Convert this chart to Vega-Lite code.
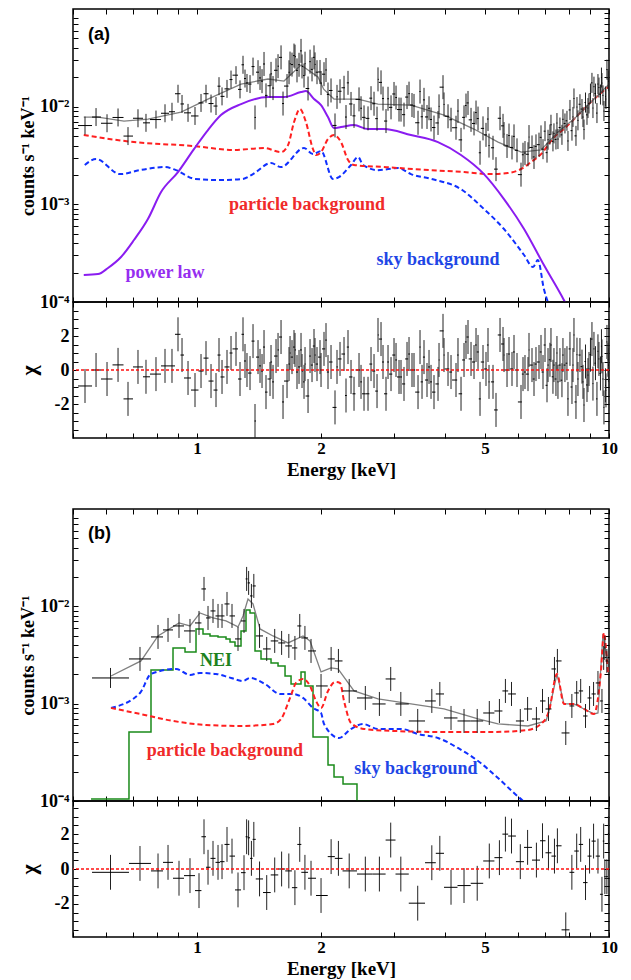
{
"$schema":"https://vega.github.io/schema/vega-lite/v6.json",
"background":"white",
"padding":{"left":16,"top":7,"right":5,"bottom":0},
"spacing":27,
"config":{
 "view":{"stroke":"black","strokeWidth":1.5},
 "axis":{"domain":false,"grid":false,"tickSize":-5,"tickColor":"black","tickWidth":1,"labelPadding":9,"labelFont":"Liberation Serif","labelFontWeight":"bold","labelFontSize":18,"labelColor":"black","titleFont":"Liberation Serif","titleFontWeight":"bold","titleFontSize":18,"titleColor":"black","labelOverlap":false,"labelFlush":false}
},
"datasets":{
"specA":[
{"e":0.5347,"el":0.5142,"eh":0.5561,"c":0.006407,"cl":0.005184,"ch":0.007919,"r":-0.94,"rl":-1.94,"rh":0.06},
{"e":0.5687,"el":0.5561,"eh":0.5847,"c":0.007827,"cl":0.006333,"ch":0.009674,"r":0,"rl":-1,"rh":1},
{"e":0.6047,"el":0.5847,"eh":0.6236,"c":0.006764,"cl":0.005472,"ch":0.00836,"r":-0.53,"rl":-1.53,"rh":0.47},
{"e":0.6431,"el":0.6236,"eh":0.6631,"c":0.007753,"cl":0.006273,"ch":0.009583,"r":0.3,"rl":-0.7,"rh":1.3},
{"e":0.68,"el":0.6631,"eh":0.6992,"c":0.005,"cl":0.004045,"ch":0.00618,"r":-1.7,"rl":-2.7,"rh":-0.7},
{"e":0.719,"el":0.6992,"eh":0.7394,"c":0.007608,"cl":0.006155,"ch":0.009403,"r":0.18,"rl":-0.82,"rh":1.18},
{"e":0.7519,"el":0.7394,"eh":0.7689,"c":0.006828,"cl":0.005524,"ch":0.00844,"r":-0.4,"rl":-1.4,"rh":0.6},
{"e":0.7951,"el":0.7689,"eh":0.8177,"c":0.00738,"cl":0.005971,"ch":0.009122,"r":-0.24,"rl":-1.24,"rh":0.76},
{"e":0.8362,"el":0.8177,"eh":0.8551,"c":0.00856,"cl":0.006926,"ch":0.01058,"r":0.24,"rl":-0.76,"rh":1.24},
{"e":0.8695,"el":0.8551,"eh":0.8842,"c":0.008869,"cl":0.007175,"ch":0.01096,"r":0.24,"rl":-0.76,"rh":1.24},
{"e":0.8992,"el":0.8842,"eh":0.9118,"c":0.01356,"cl":0.01097,"ch":0.01676,"r":2.1,"rl":1.1,"rh":3.1},
{"e":0.9196,"el":0.9118,"eh":0.9299,"c":0.01066,"cl":0.008625,"ch":0.01318,"r":0.88,"rl":-0.12,"rh":1.88},
{"e":0.951,"el":0.9299,"eh":0.967,"c":0.008642,"cl":0.006992,"ch":0.01068,"r":-0.47,"rl":-1.47,"rh":0.53},
{"e":0.9888,"el":0.967,"eh":1.0083,"c":0.008032,"cl":0.006498,"ch":0.009927,"r":-1.18,"rl":-2.18,"rh":-0.18},
{"e":1.0226,"el":1.0083,"eh":1.0369,"c":0.01092,"cl":0.008831,"ch":0.01349,"r":-0.06,"rl":-1.06,"rh":0.94},
{"e":1.0515,"el":1.0369,"eh":1.0664,"c":0.01356,"cl":0.01097,"ch":0.01676,"r":0.7,"rl":-0.3,"rh":1.7},
{"e":1.0814,"el":1.0664,"eh":1.0966,"c":0.01076,"cl":0.008707,"ch":0.0133,"r":-0.65,"rl":-1.65,"rh":0.35},
{"e":1.112,"el":1.0966,"eh":1.1213,"c":0.01015,"cl":0.00821,"ch":0.01254,"r":-1.18,"rl":-2.18,"rh":-0.18},
{"e":1.1308,"el":1.1213,"eh":1.1403,"c":0.01621,"cl":0.01312,"ch":0.02004,"r":0.88,"rl":-0.12,"rh":1.88},
{"e":1.15,"el":1.1403,"eh":1.1661,"c":0.01275,"cl":0.01031,"ch":0.01576,"r":-0.41,"rl":-1.41,"rh":0.59},
{"e":1.1825,"el":1.1661,"eh":1.1992,"c":0.01521,"cl":0.01231,"ch":0.0188,"r":0.18,"rl":-0.82,"rh":1.18},
{"e":1.2093,"el":1.1992,"eh":1.2194,"c":0.01894,"cl":0.01533,"ch":0.02342,"r":1,"rl":0,"rh":2},
{"e":1.2435,"el":1.2194,"eh":1.2575,"c":0.02101,"cl":0.017,"ch":0.02597,"r":1.24,"rl":0.24,"rh":2.24},
{"e":1.2716,"el":1.2575,"eh":1.2823,"c":0.01503,"cl":0.01216,"ch":0.01858,"r":-0.53,"rl":-1.53,"rh":0.47},
{"e":1.2931,"el":1.2823,"eh":1.3003,"c":0.02684,"cl":0.02172,"ch":0.03318,"r":2.1,"rl":1.1,"rh":3.1},
{"e":1.3076,"el":1.3003,"eh":1.3149,"c":0.0194,"cl":0.01569,"ch":0.02397,"r":0.53,"rl":-0.47,"rh":1.53},
{"e":1.3222,"el":1.3149,"eh":1.3296,"c":0.01748,"cl":0.01415,"ch":0.02161,"r":0,"rl":-1,"rh":1},
{"e":1.3448,"el":1.3296,"eh":1.3561,"c":0.01704,"cl":0.01378,"ch":0.02106,"r":-0.18,"rl":-1.18,"rh":0.82},
{"e":1.3675,"el":1.3561,"eh":1.379,"c":0.02573,"cl":0.02082,"ch":0.0318,"r":1.7,"rl":0.7,"rh":2.7},
{"e":1.3828,"el":1.379,"eh":1.3906,"c":0.007753,"cl":0.005843,"ch":0.01029,"r":-3,"rl":-4,"rh":-2},
{"e":1.4063,"el":1.3906,"eh":1.4141,"c":0.02255,"cl":0.01699,"ch":0.02992,"r":0.76,"rl":-0.24,"rh":1.76},
{"e":1.4221,"el":1.4141,"eh":1.43,"c":0.01968,"cl":0.01483,"ch":0.02611,"r":0.24,"rl":-0.76,"rh":1.24},
{"e":1.4381,"el":1.43,"eh":1.4461,"c":0.01824,"cl":0.01375,"ch":0.02421,"r":-0.06,"rl":-1.06,"rh":0.94},
{"e":1.4542,"el":1.4461,"eh":1.4623,"c":0.02735,"cl":0.02061,"ch":0.0363,"r":1.35,"rl":0.35,"rh":2.35},
{"e":1.4705,"el":1.4623,"eh":1.483,"c":0.01305,"cl":0.009836,"ch":0.01732,"r":-1.3,"rl":-2.3,"rh":-0.3},
{"e":1.5039,"el":1.483,"eh":1.508,"c":0.01637,"cl":0.01234,"ch":0.02172,"r":-0.53,"rl":-1.53,"rh":0.47},
{"e":1.5123,"el":1.508,"eh":1.521,"c":0.02166,"cl":0.01632,"ch":0.02874,"r":0.47,"rl":-0.53,"rh":1.47},
{"e":1.5293,"el":1.521,"eh":1.5379,"c":0.0155,"cl":0.01168,"ch":0.02057,"r":-0.7,"rl":-1.7,"rh":0.3},
{"e":1.5551,"el":1.5379,"eh":1.5683,"c":0.02358,"cl":0.01777,"ch":0.03129,"r":0.82,"rl":-0.18,"rh":1.82},
{"e":1.5727,"el":1.5683,"eh":1.5813,"c":0.02597,"cl":0.01957,"ch":0.03446,"r":1.18,"rl":0.18,"rh":2.18},
{"e":1.5993,"el":1.5813,"eh":1.6082,"c":0.03197,"cl":0.02409,"ch":0.04242,"r":1.94,"rl":0.94,"rh":2.94},
{"e":1.6172,"el":1.6082,"eh":1.6263,"c":0.01076,"cl":0.00811,"ch":0.01428,"r":-1.88,"rl":-2.88,"rh":-0.88},
{"e":1.6538,"el":1.6263,"eh":1.6677,"c":0.01625,"cl":0.01225,"ch":0.02157,"r":-0.65,"rl":-1.65,"rh":0.35},
{"e":1.6724,"el":1.6677,"eh":1.68,"c":0.02249,"cl":0.01695,"ch":0.02985,"r":0.35,"rl":-0.65,"rh":1.35},
{"e":1.6819,"el":1.68,"eh":1.688,"c":0.02761,"cl":0.02081,"ch":0.03664,"r":1,"rl":0,"rh":2},
{"e":1.7005,"el":1.688,"eh":1.71,"c":0.02697,"cl":0.02033,"ch":0.03579,"r":0.76,"rl":-0.24,"rh":1.76},
{"e":1.7196,"el":1.71,"eh":1.7273,"c":0.03335,"cl":0.02513,"ch":0.04426,"r":1.35,"rl":0.35,"rh":2.35},
{"e":1.7292,"el":1.7273,"eh":1.739,"c":0.0325,"cl":0.02449,"ch":0.04312,"r":1.18,"rl":0.18,"rh":2.18},
{"e":1.7487,"el":1.739,"eh":1.7585,"c":0.02352,"cl":0.01773,"ch":0.03122,"r":-0.12,"rl":-1.12,"rh":0.88},
{"e":1.7684,"el":1.7585,"eh":1.7783,"c":0.02684,"cl":0.02023,"ch":0.03562,"r":0.18,"rl":-0.82,"rh":1.18},
{"e":1.7883,"el":1.7783,"eh":1.7963,"c":0.03726,"cl":0.02808,"ch":0.04944,"r":1.18,"rl":0.18,"rh":2.18},
{"e":1.7983,"el":1.7963,"eh":1.8084,"c":0.02579,"cl":0.01944,"ch":0.03423,"r":-0.06,"rl":-1.06,"rh":0.94},
{"e":1.8185,"el":1.8084,"eh":1.8246,"c":0.02081,"cl":0.01568,"ch":0.02762,"r":-0.7,"rl":-1.7,"rh":0.3},
{"e":1.8287,"el":1.8246,"eh":1.8348,"c":0.02755,"cl":0.02076,"ch":0.03656,"r":0.35,"rl":-0.65,"rh":1.35},
{"e":1.8598,"el":1.8348,"eh":1.8723,"c":0.01535,"cl":0.01157,"ch":0.02037,"r":-1.53,"rl":-2.53,"rh":-0.53},
{"e":1.8807,"el":1.8723,"eh":1.8891,"c":0.02888,"cl":0.02177,"ch":0.03833,"r":0.82,"rl":-0.18,"rh":1.82},
{"e":1.9017,"el":1.8891,"eh":1.9102,"c":0.02409,"cl":0.01815,"ch":0.03196,"r":0.29,"rl":-0.71,"rh":1.29},
{"e":1.923,"el":1.9102,"eh":1.9305,"c":0.03197,"cl":0.02409,"ch":0.04242,"r":1.41,"rl":0.41,"rh":2.41},
{"e":1.9338,"el":1.9305,"eh":1.9414,"c":0.0271,"cl":0.02042,"ch":0.03596,"r":0.88,"rl":-0.12,"rh":1.88},
{"e":1.9555,"el":1.9414,"eh":1.9664,"c":0.02255,"cl":0.01699,"ch":0.02992,"r":0.35,"rl":-0.65,"rh":1.35},
{"e":1.9886,"el":1.9664,"eh":1.995,"c":0.02265,"cl":0.01707,"ch":0.03006,"r":0.76,"rl":-0.24,"rh":1.76},
{"e":2.0,"el":1.995,"eh":2.011,"c":0.01744,"cl":0.01315,"ch":0.02315,"r":0,"rl":-1,"rh":1},
{"e":2.0335,"el":2.011,"eh":2.047,"c":0.02151,"cl":0.01621,"ch":0.02854,"r":1.24,"rl":0.24,"rh":2.24},
{"e":2.0564,"el":2.047,"eh":2.066,"c":0.02375,"cl":0.0179,"ch":0.03151,"r":1.76,"rl":0.76,"rh":2.76},
{"e":2.0795,"el":2.066,"eh":2.091,"c":0.01333,"cl":0.01005,"ch":0.01769,"r":-0.12,"rl":-1.12,"rh":0.88},
{"e":2.1148,"el":2.091,"eh":2.1326,"c":0.01465,"cl":0.01104,"ch":0.01945,"r":0.47,"rl":-0.53,"rh":1.47},
{"e":2.1625,"el":2.1326,"eh":2.1807,"c":0.006422,"cl":0.00484,"ch":0.008522,"r":-2.2,"rl":-3.2,"rh":-1.2},
{"e":2.1868,"el":2.1807,"eh":2.1966,"c":0.0126,"cl":0.009494,"ch":0.01672,"r":0.18,"rl":-0.82,"rh":1.18},
{"e":2.2238,"el":2.1966,"eh":2.2425,"c":0.01438,"cl":0.01084,"ch":0.01908,"r":0.65,"rl":-0.35,"rh":1.65},
{"e":2.2741,"el":2.2425,"eh":2.2868,"c":0.01561,"cl":0.01176,"ch":0.02071,"r":0.94,"rl":-0.06,"rh":1.94},
{"e":2.2996,"el":2.2868,"eh":2.31,"c":0.007827,"cl":0.005898,"ch":0.01039,"r":-1.5,"rl":-2.5,"rh":-0.5},
{"e":2.3254,"el":2.31,"eh":2.338,"c":0.01753,"cl":0.01321,"ch":0.02326,"r":1.35,"rl":0.35,"rh":2.35},
{"e":2.3649,"el":2.338,"eh":2.384,"c":0.01066,"cl":0.008033,"ch":0.01415,"r":-0.41,"rl":-1.41,"rh":0.59},
{"e":2.4048,"el":2.384,"eh":2.425,"c":0.008049,"cl":0.006066,"ch":0.01068,"r":-1.4,"rl":-2.4,"rh":-0.4},
{"e":2.473,"el":2.425,"eh":2.49,"c":0.01188,"cl":0.00895,"ch":0.01576,"r":0,"rl":-1,"rh":1},
{"e":2.5009,"el":2.49,"eh":2.515,"c":0.009633,"cl":0.007259,"ch":0.01278,"r":-0.7,"rl":-1.7,"rh":0.3},
{"e":2.5431,"el":2.515,"eh":2.565,"c":0.007772,"cl":0.005857,"ch":0.01031,"r":-1.4,"rl":-2.4,"rh":-0.4},
{"e":2.6007,"el":2.565,"eh":2.62,"c":0.007589,"cl":0.005719,"ch":0.01007,"r":-1.4,"rl":-2.4,"rh":-0.4},
{"e":2.6447,"el":2.62,"eh":2.662,"c":0.01222,"cl":0.009207,"ch":0.01621,"r":0.35,"rl":-0.65,"rh":1.35},
{"e":2.6893,"el":2.662,"eh":2.707,"c":0.01071,"cl":0.008072,"ch":0.01422,"r":-0.06,"rl":-1.06,"rh":0.94},
{"e":2.7347,"el":2.707,"eh":2.747,"c":0.007537,"cl":0.00568,"ch":0.01,"r":-1.24,"rl":-2.24,"rh":-0.24},
{"e":2.75,"el":2.747,"eh":2.762,"c":0.01904,"cl":0.01435,"ch":0.02526,"r":2.06,"rl":1.06,"rh":3.06},
{"e":2.7966,"el":2.762,"eh":2.812,"c":0.01773,"cl":0.01336,"ch":0.02353,"r":1.82,"rl":0.82,"rh":2.82},
{"e":2.8279,"el":2.812,"eh":2.844,"c":0.0121,"cl":0.00912,"ch":0.01606,"r":0.47,"rl":-0.53,"rh":1.47},
{"e":2.8757,"el":2.844,"eh":2.895,"c":0.007124,"cl":0.005368,"ch":0.009454,"r":-1.4,"rl":-2.4,"rh":-0.4},
{"e":2.9081,"el":2.895,"eh":2.924,"c":0.01204,"cl":0.009076,"ch":0.01598,"r":0.47,"rl":-0.53,"rh":1.47},
{"e":2.9574,"el":2.924,"eh":2.978,"c":0.00984,"cl":0.007415,"ch":0.01306,"r":-0.24,"rl":-1.24,"rh":0.76},
{"e":3.0073,"el":2.978,"eh":3.028,"c":0.01349,"cl":0.01017,"ch":0.0179,"r":0.88,"rl":-0.12,"rh":1.88},
{"e":3.0411,"el":3.028,"eh":3.058,"c":0.01239,"cl":0.009338,"ch":0.01644,"r":0.59,"rl":-0.41,"rh":1.59},
{"e":3.0925,"el":3.058,"eh":3.112,"c":0.009344,"cl":0.007041,"ch":0.0124,"r":-0.41,"rl":-1.41,"rh":0.59},
{"e":3.1272,"el":3.112,"eh":3.145,"c":0.009322,"cl":0.007025,"ch":0.01237,"r":-0.41,"rl":-1.41,"rh":0.59},
{"e":3.1801,"el":3.145,"eh":3.2,"c":0.008281,"cl":0.00624,"ch":0.01099,"r":-0.82,"rl":-1.82,"rh":0.18},
{"e":3.2339,"el":3.2,"eh":3.255,"c":0.01254,"cl":0.009451,"ch":0.01664,"r":0.65,"rl":-0.35,"rh":1.65},
{"e":3.2703,"el":3.255,"eh":3.288,"c":0.01359,"cl":0.01024,"ch":0.01803,"r":0.94,"rl":-0.06,"rh":1.94},
{"e":3.3255,"el":3.288,"eh":3.345,"c":0.01039,"cl":0.007829,"ch":0.01379,"r":0,"rl":-1,"rh":1},
{"e":3.3628,"el":3.345,"eh":3.385,"c":0.01017,"cl":0.007664,"ch":0.0135,"r":0,"rl":-1,"rh":1},
{"e":3.4391,"el":3.385,"eh":3.465,"c":0.006844,"cl":0.005157,"ch":0.009082,"r":-1.3,"rl":-2.3,"rh":-0.3},
{"e":3.4777,"el":3.465,"eh":3.49,"c":0.01428,"cl":0.01076,"ch":0.01895,"r":1.35,"rl":0.35,"rh":2.35},
{"e":3.5167,"el":3.49,"eh":3.535,"c":0.007882,"cl":0.00594,"ch":0.01046,"r":-0.7,"rl":-1.7,"rh":0.3},
{"e":3.5562,"el":3.535,"eh":3.575,"c":0.01174,"cl":0.008847,"ch":0.01558,"r":0.76,"rl":-0.24,"rh":1.76},
{"e":3.6163,"el":3.575,"eh":3.637,"c":0.007847,"cl":0.005913,"ch":0.01041,"r":-0.59,"rl":-1.59,"rh":0.41},
{"e":3.6572,"el":3.637,"eh":3.677,"c":0.009633,"cl":0.007259,"ch":0.01278,"r":0.18,"rl":-0.82,"rh":1.18},
{"e":3.6983,"el":3.677,"eh":3.719,"c":0.007397,"cl":0.005574,"ch":0.009816,"r":-0.7,"rl":-1.7,"rh":0.3},
{"e":3.7606,"el":3.719,"eh":3.79,"c":0.006112,"cl":0.004606,"ch":0.00811,"r":-1.3,"rl":-2.3,"rh":-0.3},
{"e":3.8459,"el":3.79,"eh":3.86,"c":0.006812,"cl":0.005133,"ch":0.009039,"r":-0.82,"rl":-1.82,"rh":0.18},
{"e":3.8674,"el":3.86,"eh":3.88,"c":0.01007,"cl":0.007591,"ch":0.01337,"r":0.59,"rl":-0.41,"rh":1.59},
{"e":3.9546,"el":3.88,"eh":3.967,"c":0.01584,"cl":0.01193,"ch":0.02101,"r":2.3,"rl":1.3,"rh":3.3},
{"e":3.9767,"el":3.967,"eh":3.99,"c":0.01054,"cl":0.00794,"ch":0.01398,"r":0.88,"rl":-0.12,"rh":1.88},
{"e":4.0669,"el":3.99,"eh":4.095,"c":0.007975,"cl":0.00601,"ch":0.01058,"r":0.06,"rl":-0.94,"rh":1.06},
{"e":4.1356,"el":4.095,"eh":4.16,"c":0.007345,"cl":0.005535,"ch":0.009747,"r":-0.12,"rl":-1.12,"rh":0.88},
{"e":4.2526,"el":4.16,"eh":4.28,"c":0.006084,"cl":0.004585,"ch":0.008073,"r":-0.59,"rl":-1.59,"rh":0.41},
{"e":4.2999,"el":4.28,"eh":4.315,"c":0.009017,"cl":0.006795,"ch":0.01197,"r":0.88,"rl":-0.12,"rh":1.88},
{"e":4.3734,"el":4.315,"eh":4.4,"c":0.004572,"cl":0.003445,"ch":0.006067,"r":-1.4,"rl":-2.4,"rh":-0.4},
{"e":4.4472,"el":4.4,"eh":4.47,"c":0.007772,"cl":0.005857,"ch":0.01031,"r":0.59,"rl":-0.41,"rh":1.59},
{"e":4.4971,"el":4.47,"eh":4.51,"c":0.01027,"cl":0.007737,"ch":0.01362,"r":1.65,"rl":0.65,"rh":2.65},
{"e":4.5476,"el":4.51,"eh":4.565,"c":0.01092,"cl":0.008225,"ch":0.01448,"r":1.94,"rl":0.94,"rh":2.94},
{"e":4.6248,"el":4.565,"eh":4.65,"c":0.007327,"cl":0.005522,"ch":0.009723,"r":0.65,"rl":-0.35,"rh":1.65},
{"e":4.7028,"el":4.65,"eh":4.73,"c":0.006732,"cl":0.005073,"ch":0.008933,"r":0.47,"rl":-0.53,"rh":1.47},
{"e":4.7557,"el":4.73,"eh":4.775,"c":0.008703,"cl":0.006558,"ch":0.01155,"r":1.47,"rl":0.47,"rh":2.47},
{"e":4.8092,"el":4.775,"eh":4.83,"c":0.007554,"cl":0.005693,"ch":0.01002,"r":1.06,"rl":0.06,"rh":2.06},
{"e":4.8633,"el":4.83,"eh":4.885,"c":0.003374,"cl":0.002543,"ch":0.004477,"r":-1.7,"rl":-2.7,"rh":-0.7},
{"e":4.9453,"el":4.885,"eh":4.975,"c":0.005996,"cl":0.004518,"ch":0.007957,"r":0.47,"rl":-0.53,"rh":1.47},
{"e":5.0289,"el":4.975,"eh":5.055,"c":0.005144,"cl":0.003876,"ch":0.006826,"r":0.06,"rl":-0.94,"rh":1.06},
{"e":5.0854,"el":5.055,"eh":5.1,"c":0.007467,"cl":0.005627,"ch":0.009909,"r":1.47,"rl":0.47,"rh":2.47},
{"e":5.1139,"el":5.1,"eh":5.13,"c":0.003997,"cl":0.003012,"ch":0.005304,"r":-0.7,"rl":-1.7,"rh":0.3},
{"e":5.2296,"el":5.17,"eh":5.26,"c":0.003794,"cl":0.002859,"ch":0.005035,"r":-0.7,"rl":-1.7,"rh":0.3},
{"e":5.318,"el":5.26,"eh":5.37,"c":0.002293,"cl":0.001728,"ch":0.003042,"r":-2.35,"rl":-3.35,"rh":-1.35},
{"e":5.4384,"el":5.37,"eh":5.47,"c":0.007608,"cl":0.005733,"ch":0.0101,"r":2.06,"rl":1.06,"rh":3.06},
{"e":5.5303,"el":5.47,"eh":5.555,"c":0.006361,"cl":0.004794,"ch":0.008441,"r":1.53,"rl":0.53,"rh":2.53},
{"e":5.5613,"el":5.555,"eh":5.575,"c":0.005242,"cl":0.00395,"ch":0.006956,"r":0.88,"rl":-0.12,"rh":1.88},
{"e":5.6553,"el":5.575,"eh":5.69,"c":0.003959,"cl":0.002984,"ch":0.005254,"r":0,"rl":-1,"rh":1},
{"e":5.7187,"el":5.69,"eh":5.745,"c":0.00506,"cl":0.003813,"ch":0.006715,"r":0.94,"rl":-0.06,"rh":1.94},
{"e":5.8153,"el":5.745,"eh":5.845,"c":0.003822,"cl":0.00288,"ch":0.005072,"r":0.06,"rl":-0.94,"rh":1.06},
{"e":5.8807,"el":5.845,"eh":5.905,"c":0.004964,"cl":0.003741,"ch":0.006587,"r":1.06,"rl":0.06,"rh":2.06},
{"e":5.9802,"el":5.905,"eh":6.01,"c":0.00357,"cl":0.00269,"ch":0.004737,"r":0,"rl":-1,"rh":1},
{"e":6.1153,"el":6.01,"eh":6.145,"c":0.002014,"cl":0.001517,"ch":0.002672,"r":-1.88,"rl":-2.88,"rh":-0.88},
{"e":6.1838,"el":6.145,"eh":6.21,"c":0.003218,"cl":0.002425,"ch":0.00427,"r":-0.24,"rl":-1.24,"rh":0.76},
{"e":6.2531,"el":6.21,"eh":6.28,"c":0.00335,"cl":0.002524,"ch":0.004445,"r":-0.12,"rl":-1.12,"rh":0.88},
{"e":6.3594,"el":6.28,"eh":6.385,"c":0.003256,"cl":0.002454,"ch":0.004321,"r":-0.24,"rl":-1.24,"rh":0.76},
{"e":6.395,"el":6.385,"eh":6.41,"c":0.004884,"cl":0.00368,"ch":0.006481,"r":1.18,"rl":0.18,"rh":2.18},
{"e":6.5029,"el":6.41,"eh":6.53,"c":0.003822,"cl":0.00288,"ch":0.005072,"r":0.29,"rl":-0.71,"rh":1.29},
{"e":6.5759,"el":6.53,"eh":6.6,"c":0.003055,"cl":0.002302,"ch":0.004054,"r":-0.53,"rl":-1.53,"rh":0.47},
{"e":6.6496,"el":6.6,"eh":6.675,"c":0.003922,"cl":0.002956,"ch":0.005204,"r":0.35,"rl":-0.65,"rh":1.35},
{"e":6.7625,"el":6.675,"eh":6.79,"c":0.004082,"cl":0.003076,"ch":0.005417,"r":0.47,"rl":-0.53,"rh":1.47},
{"e":6.8386,"el":6.79,"eh":6.86,"c":0.00485,"cl":0.003655,"ch":0.006436,"r":1.06,"rl":0.06,"rh":2.06},
{"e":6.9153,"el":6.86,"eh":6.94,"c":0.003671,"cl":0.0029,"ch":0.004648,"r":-0.12,"rl":-1.12,"rh":0.88},
{"e":6.993,"el":6.94,"eh":7.015,"c":0.005613,"cl":0.004434,"ch":0.007106,"r":1.47,"rl":0.47,"rh":2.47},
{"e":7.0716,"el":7.015,"eh":7.09,"c":0.003382,"cl":0.002671,"ch":0.004282,"r":-0.9,"rl":-1.9,"rh":0.1},
{"e":7.1117,"el":7.09,"eh":7.14,"c":0.004582,"cl":0.003619,"ch":0.005801,"r":0.29,"rl":-0.71,"rh":1.29},
{"e":7.1896,"el":7.14,"eh":7.21,"c":0.005192,"cl":0.004101,"ch":0.006573,"r":0.6,"rl":-0.4,"rh":1.6},
{"e":7.2301,"el":7.21,"eh":7.26,"c":0.006528,"cl":0.005156,"ch":0.008264,"r":1.47,"rl":0.47,"rh":2.47},
{"e":7.3111,"el":7.26,"eh":7.33,"c":0.004413,"cl":0.003486,"ch":0.005587,"r":-0.4,"rl":-1.4,"rh":0.6},
{"e":7.352,"el":7.33,"eh":7.38,"c":0.005329,"cl":0.004209,"ch":0.006747,"r":0.29,"rl":-0.71,"rh":1.29},
{"e":7.4347,"el":7.38,"eh":7.455,"c":0.004615,"cl":0.003645,"ch":0.005843,"r":-0.53,"rl":-1.53,"rh":0.47},
{"e":7.4763,"el":7.455,"eh":7.495,"c":0.006796,"cl":0.005368,"ch":0.008604,"r":1,"rl":0,"rh":2},
{"e":7.5183,"el":7.495,"eh":7.545,"c":0.004659,"cl":0.00368,"ch":0.005898,"r":-0.7,"rl":-1.7,"rh":0.3},
{"e":7.603,"el":7.545,"eh":7.63,"c":0.006112,"cl":0.004828,"ch":0.007738,"r":0.29,"rl":-0.71,"rh":1.29},
{"e":7.6883,"el":7.63,"eh":7.7,"c":0.005144,"cl":0.004063,"ch":0.006512,"r":-0.6,"rl":-1.6,"rh":0.4},
{"e":7.7314,"el":7.7,"eh":7.76,"c":0.007431,"cl":0.00587,"ch":0.009408,"r":0.88,"rl":-0.12,"rh":1.88},
{"e":7.818,"el":7.76,"eh":7.845,"c":0.006732,"cl":0.005318,"ch":0.008523,"r":0.29,"rl":-0.71,"rh":1.29},
{"e":7.9063,"el":7.845,"eh":7.92,"c":0.007166,"cl":0.00566,"ch":0.009072,"r":0.4,"rl":-0.6,"rh":1.4},
{"e":7.951,"el":7.92,"eh":7.98,"c":0.004455,"cl":0.003519,"ch":0.00564,"r":-1.7,"rl":-2.7,"rh":-0.7},
{"e":8.0406,"el":7.98,"eh":8.065,"c":0.009254,"cl":0.00731,"ch":0.01172,"r":1.24,"rl":0.24,"rh":2.24},
{"e":8.1307,"el":8.065,"eh":8.15,"c":0.00568,"cl":0.004486,"ch":0.007191,"r":-1,"rl":-2,"rh":0},
{"e":8.1763,"el":8.15,"eh":8.2,"c":0.007847,"cl":0.006198,"ch":0.009934,"r":0.29,"rl":-0.71,"rh":1.29},
{"e":8.2221,"el":8.2,"eh":8.245,"c":0.01213,"cl":0.009582,"ch":0.01536,"r":2.06,"rl":1.06,"rh":3.06},
{"e":8.3143,"el":8.245,"eh":8.34,"c":0.005023,"cl":0.003968,"ch":0.006359,"r":-1.88,"rl":-2.88,"rh":-0.88},
{"e":8.3611,"el":8.34,"eh":8.38,"c":0.00991,"cl":0.007828,"ch":0.01255,"r":0.9,"rl":-0.1,"rh":1.9},
{"e":8.4075,"el":8.38,"eh":8.435,"c":0.007243,"cl":0.005721,"ch":0.00917,"r":-0.53,"rl":-1.53,"rh":0.47},
{"e":8.5018,"el":8.435,"eh":8.53,"c":0.01059,"cl":0.008362,"ch":0.0134,"r":0.88,"rl":-0.12,"rh":1.88},
{"e":8.5991,"el":8.53,"eh":8.62,"c":0.009454,"cl":0.007468,"ch":0.01197,"r":0.2,"rl":-0.8,"rh":1.2},
{"e":8.6473,"el":8.62,"eh":8.675,"c":0.007827,"cl":0.006182,"ch":0.009909,"r":-0.7,"rl":-1.7,"rh":0.3},
{"e":8.6957,"el":8.675,"eh":8.72,"c":0.005829,"cl":0.004604,"ch":0.00738,"r":-2.06,"rl":-3.06,"rh":-1.06},
{"e":8.7692,"el":8.72,"eh":8.795,"c":0.01102,"cl":0.008704,"ch":0.01395,"r":0.5,"rl":-0.5,"rh":1.5},
{"e":8.8427,"el":8.795,"eh":8.87,"c":0.008242,"cl":0.00651,"ch":0.01043,"r":-0.88,"rl":-1.88,"rh":0.12},
{"e":8.8923,"el":8.87,"eh":8.915,"c":0.009679,"cl":0.007645,"ch":0.01225,"r":-0.3,"rl":-1.3,"rh":0.7},
{"e":8.9419,"el":8.915,"eh":8.97,"c":0.01079,"cl":0.008521,"ch":0.01366,"r":0.06,"rl":-0.94,"rh":1.06},
{"e":9.0157,"el":8.97,"eh":9.04,"c":0.01362,"cl":0.01076,"ch":0.01724,"r":0.9,"rl":-0.1,"rh":1.9},
{"e":9.0917,"el":9.04,"eh":9.12,"c":0.01753,"cl":0.01384,"ch":0.02219,"r":1.82,"rl":0.82,"rh":2.82},
{"e":9.1426,"el":9.12,"eh":9.165,"c":0.009679,"cl":0.007645,"ch":0.01225,"r":-0.8,"rl":-1.8,"rh":0.2},
{"e":9.1938,"el":9.165,"eh":9.22,"c":0.01602,"cl":0.01266,"ch":0.02029,"r":1.24,"rl":0.24,"rh":2.24},
{"e":9.2722,"el":9.22,"eh":9.3,"c":0.01362,"cl":0.01076,"ch":0.01724,"r":0.4,"rl":-0.6,"rh":1.4},
{"e":9.3493,"el":9.3,"eh":9.375,"c":0.0086,"cl":0.006793,"ch":0.01089,"r":-1.7,"rl":-2.7,"rh":-0.7},
{"e":9.4016,"el":9.375,"eh":9.425,"c":0.01704,"cl":0.01346,"ch":0.02157,"r":1.1,"rl":0.1,"rh":2.1},
{"e":9.4542,"el":9.425,"eh":9.48,"c":0.01569,"cl":0.01239,"ch":0.01986,"r":0.65,"rl":-0.35,"rh":1.65},
{"e":9.5338,"el":9.48,"eh":9.56,"c":0.0133,"cl":0.01051,"ch":0.01684,"r":-0.2,"rl":-1.2,"rh":0.8},
{"e":9.5875,"el":9.56,"eh":9.6,"c":0.01986,"cl":0.01569,"ch":0.02514,"r":1.4,"rl":0.4,"rh":2.4},
{"e":9.6146,"el":9.6,"eh":9.64,"c":0.01744,"cl":0.01378,"ch":0.02208,"r":0.8,"rl":-0.2,"rh":1.8},
{"e":9.6686,"el":9.64,"eh":9.695,"c":0.01305,"cl":0.01031,"ch":0.01653,"r":-0.53,"rl":-1.53,"rh":0.47},
{"e":9.7227,"el":9.695,"eh":9.745,"c":0.009017,"cl":0.007122,"ch":0.01142,"r":-2.2,"rl":-3.2,"rh":-1.2},
{"e":9.8044,"el":9.78,"eh":9.83,"c":0.01269,"cl":0.01002,"ch":0.01607,"r":-0.9,"rl":-1.9,"rh":0.1},
{"e":9.8321,"el":9.815,"eh":9.85,"c":0.01196,"cl":0.00945,"ch":0.01515,"r":-1.2,"rl":-2.2,"rh":-0.2},
{"e":9.886,"el":9.85,"eh":9.915,"c":0.02397,"cl":0.01894,"ch":0.03035,"r":1.65,"rl":0.65,"rh":2.65},
{"e":9.9442,"el":9.92,"eh":9.97,"c":0.01917,"cl":0.01514,"ch":0.02427,"r":0.6,"rl":-0.4,"rh":1.6},
{"e":9.97,"el":9.945,"eh":10.0,"c":0.01824,"cl":0.01441,"ch":0.0231,"r":0.29,"rl":-0.71,"rh":1.29}
],
"specB":[
{"e":0.6166,"el":0.5561,"eh":0.6837,"c":0.001837,"cl":0.00145,"ch":0.002327,"r":-0.19,"rl":-1.19,"rh":0.81},
{"e":0.7271,"el":0.6837,"eh":0.7732,"c":0.00288,"cl":0.002169,"ch":0.003825,"r":0.32,"rl":-0.68,"rh":1.32},
{"e":0.8042,"el":0.7732,"eh":0.8269,"c":0.004848,"cl":0.003651,"ch":0.006438,"r":-0.11,"rl":-1.11,"rh":0.89},
{"e":0.8504,"el":0.8269,"eh":0.8744,"c":0.005722,"cl":0.004309,"ch":0.007599,"r":0.38,"rl":-0.62,"rh":1.38},
{"e":0.9042,"el":0.8744,"eh":0.9299,"c":0.006287,"cl":0.004734,"ch":0.008349,"r":-0.53,"rl":-1.53,"rh":0.47},
{"e":0.9615,"el":0.9299,"eh":0.9888,"c":0.005588,"cl":0.004208,"ch":0.007421,"r":-0.38,"rl":-1.38,"rh":0.62},
{"e":1.0112,"el":0.9888,"eh":1.025,"c":0.00675,"cl":0.005083,"ch":0.008964,"r":-1.24,"rl":-2.24,"rh":-0.24},
{"e":1.0398,"el":1.025,"eh":1.0515,"c":0.01509,"cl":0.01136,"ch":0.02004,"r":1.85,"rl":0.85,"rh":2.85},
{"e":1.0634,"el":1.0515,"eh":1.0783,"c":0.007598,"cl":0.005721,"ch":0.01009,"r":0.1,"rl":-0.9,"rh":1.1},
{"e":1.0935,"el":1.0783,"eh":1.1089,"c":0.008967,"cl":0.006752,"ch":0.01191,"r":0.61,"rl":-0.39,"rh":1.61},
{"e":1.1246,"el":1.1089,"eh":1.1372,"c":0.007966,"cl":0.005999,"ch":0.01058,"r":0.38,"rl":-0.62,"rh":1.38},
{"e":1.15,"el":1.1372,"eh":1.1661,"c":0.007966,"cl":0.005999,"ch":0.01058,"r":0.42,"rl":-0.58,"rh":1.42},
{"e":1.1825,"el":1.1661,"eh":1.1992,"c":0.01058,"cl":0.007968,"ch":0.01405,"r":1.41,"rl":0.41,"rh":2.41},
{"e":1.216,"el":1.1992,"eh":1.2365,"c":0.007966,"cl":0.005999,"ch":0.01058,"r":0.74,"rl":-0.26,"rh":1.74},
{"e":1.2575,"el":1.2365,"eh":1.2788,"c":0.004624,"cl":0.003482,"ch":0.006141,"r":-1.2,"rl":-2.2,"rh":-0.2},
{"e":1.3003,"el":1.2788,"eh":1.3121,"c":0.007077,"cl":0.005329,"ch":0.009398,"r":-0.21,"rl":-1.21,"rh":0.79},
{"e":1.3195,"el":1.3121,"eh":1.3269,"c":0.01912,"cl":0.0144,"ch":0.0254,"r":1.85,"rl":0.85,"rh":2.85},
{"e":1.3343,"el":1.3269,"eh":1.3448,"c":0.0174,"cl":0.0131,"ch":0.0231,"r":1.79,"rl":0.79,"rh":2.79},
{"e":1.3553,"el":1.3448,"eh":1.3645,"c":0.01279,"cl":0.009629,"ch":0.01698,"r":0.61,"rl":-0.39,"rh":1.61},
{"e":1.3736,"el":1.3645,"eh":1.3887,"c":0.0162,"cl":0.0122,"ch":0.02152,"r":1.7,"rl":0.7,"rh":2.7},
{"e":1.4182,"el":1.3887,"eh":1.4461,"c":0.004964,"cl":0.003738,"ch":0.006592,"r":-0.57,"rl":-1.57,"rh":0.43},
{"e":1.4763,"el":1.4461,"eh":1.5098,"c":0.003649,"cl":0.002748,"ch":0.004846,"r":-1.35,"rl":-2.35,"rh":-0.35},
{"e":1.5438,"el":1.5098,"eh":1.5746,"c":0.00441,"cl":0.003321,"ch":0.005856,"r":-0.34,"rl":-1.34,"rh":0.66},
{"e":1.6045,"el":1.5746,"eh":1.6374,"c":0.004206,"cl":0.003167,"ch":0.005586,"r":0,"rl":-1,"rh":1},
{"e":1.6704,"el":1.6374,"eh":1.6997,"c":0.003918,"cl":0.00295,"ch":0.005203,"r":-0.11,"rl":-1.11,"rh":0.89},
{"e":1.7283,"el":1.6997,"eh":1.7516,"c":0.003736,"cl":0.002813,"ch":0.004961,"r":-1.07,"rl":-2.07,"rh":-0.07},
{"e":1.7756,"el":1.7516,"eh":1.7913,"c":0.006287,"cl":0.004734,"ch":0.008349,"r":1.41,"rl":0.41,"rh":2.41},
{"e":1.8278,"el":1.7913,"eh":1.8598,"c":0.004735,"cl":0.003565,"ch":0.006288,"r":-0.19,"rl":-1.19,"rh":0.81},
{"e":1.8911,"el":1.8598,"eh":1.9447,"c":0.00348,"cl":0.00262,"ch":0.004621,"r":-0.53,"rl":-1.53,"rh":0.47},
{"e":2.0,"el":1.9447,"eh":2.0764,"c":0.00152,"cl":0.001145,"ch":0.002019,"r":-1.52,"rl":-2.52,"rh":-0.52},
{"e":2.1159,"el":2.0764,"eh":2.1602,"c":0.00288,"cl":0.002169,"ch":0.003825,"r":0.71,"rl":-0.29,"rh":1.71},
{"e":2.2039,"el":2.1602,"eh":2.2551,"c":0.002747,"cl":0.002069,"ch":0.003648,"r":0.61,"rl":-0.39,"rh":1.61},
{"e":2.3411,"el":2.2551,"eh":2.4451,"c":0.001351,"cl":0.001017,"ch":0.001794,"r":-0.11,"rl":-1.11,"rh":0.89},
{"e":2.5618,"el":2.4451,"eh":2.6653,"c":0.001144,"cl":0.000862,"ch":0.001519,"r":-0.29,"rl":-1.29,"rh":0.71},
{"e":2.7714,"el":2.6653,"eh":2.8693,"c":0.000993,"cl":0.000748,"ch":0.001319,"r":-0.29,"rl":-1.29,"rh":0.71},
{"e":2.9521,"el":2.8693,"eh":3.0324,"c":0.001794,"cl":0.001351,"ch":0.002382,"r":1.66,"rl":0.66,"rh":2.66},
{"e":3.1237,"el":3.0324,"eh":3.2657,"c":0.000993,"cl":0.000748,"ch":0.001319,"r":-0.29,"rl":-1.29,"rh":0.71},
{"e":3.4331,"el":3.2657,"eh":3.5762,"c":0.000664,"cl":0.0005,"ch":0.000882,"r":-1.96,"rl":-2.96,"rh":-0.96},
{"e":3.7148,"el":3.5762,"eh":3.7985,"c":0.001066,"cl":0.000803,"ch":0.001416,"r":0.36,"rl":-0.64,"rh":1.36},
{"e":3.8847,"el":3.7985,"eh":3.9767,"c":0.001258,"cl":0.000947,"ch":0.001671,"r":0.9,"rl":-0.1,"rh":1.9},
{"e":4.1356,"el":3.9767,"eh":4.2883,"c":0.000713,"cl":0.000537,"ch":0.000947,"r":-1.05,"rl":-2.05,"rh":-0.05},
{"e":4.4472,"el":4.2883,"eh":4.6165,"c":0.000664,"cl":0.0005,"ch":0.000882,"r":-0.95,"rl":-1.95,"rh":0.05},
{"e":4.7874,"el":4.6165,"eh":4.9508,"c":0.000664,"cl":0.0005,"ch":0.000882,"r":-0.82,"rl":-1.82,"rh":0.18},
{"e":5.1225,"el":4.9508,"eh":5.2708,"c":0.000802,"cl":0.000604,"ch":0.001065,"r":0.46,"rl":-0.54,"rh":1.46},
{"e":5.4202,"el":5.2708,"eh":5.5118,"c":0.000841,"cl":0.000633,"ch":0.001117,"r":0.65,"rl":-0.35,"rh":1.65},
{"e":5.605,"el":5.5118,"eh":5.6912,"c":0.001351,"cl":0.001017,"ch":0.001794,"r":2,"rl":1,"rh":3},
{"e":5.7991,"el":5.6912,"eh":5.9434,"c":0.001258,"cl":0.000947,"ch":0.001671,"r":1.89,"rl":0.89,"rh":2.89},
{"e":6.0912,"el":5.9434,"eh":6.2185,"c":0.000664,"cl":0.0005,"ch":0.000882,"r":0.42,"rl":-0.58,"rh":1.42},
{"e":6.3446,"el":6.2185,"eh":6.5029,"c":0.000882,"cl":0.000664,"ch":0.001171,"r":1.24,"rl":0.24,"rh":2.24},
{"e":6.6649,"el":6.5029,"eh":6.8003,"c":0.000696,"cl":0.000524,"ch":0.000924,"r":0.51,"rl":-0.49,"rh":1.51},
{"e":6.896,"el":6.8003,"eh":7.0124,"c":0.001066,"cl":0.000803,"ch":0.001416,"r":1.62,"rl":0.62,"rh":2.62},
{"e":7.1293,"el":7.0124,"eh":7.25,"c":0.000882,"cl":0.000664,"ch":0.001171,"r":0.93,"rl":-0.07,"rh":1.93},
{"e":7.3725,"el":7.25,"eh":7.4347,"c":0.002273,"cl":0.001712,"ch":0.003019,"r":0.74,"rl":-0.26,"rh":1.74},
{"e":7.4949,"el":7.4347,"eh":7.671,"c":0.002747,"cl":0.002069,"ch":0.003648,"r":1.33,"rl":0.33,"rh":2.33},
{"e":7.8536,"el":7.671,"eh":8.0183,"c":0.0005,"cl":0.000376,"ch":0.000664,"r":-3.49,"rl":-4.49,"rh":-2.49},
{"e":8.1259,"el":8.0183,"eh":8.2361,"c":0.000947,"cl":0.000713,"ch":0.001258,"r":-0.19,"rl":-1.19,"rh":0.81},
{"e":8.348,"el":8.2361,"eh":8.4468,"c":0.001289,"cl":0.00097,"ch":0.001711,"r":1.03,"rl":0.03,"rh":2.03},
{"e":8.5364,"el":8.4468,"eh":8.652,"c":0.001351,"cl":0.001017,"ch":0.001794,"r":1.41,"rl":0.41,"rh":2.41},
{"e":8.7692,"el":8.652,"eh":8.8689,"c":0.000747,"cl":0.000563,"ch":0.000992,"r":-0.78,"rl":-1.78,"rh":0.22},
{"e":8.9704,"el":8.8689,"eh":9.0714,"c":0.001144,"cl":0.000862,"ch":0.001519,"r":0.74,"rl":-0.26,"rh":1.74},
{"e":9.1734,"el":9.0714,"eh":9.2876,"c":0.001258,"cl":0.000947,"ch":0.001671,"r":1.6,"rl":0.6,"rh":2.6},
{"e":9.4016,"el":9.2876,"eh":9.5077,"c":0.001632,"cl":0.001229,"ch":0.002167,"r":0.74,"rl":-0.26,"rh":1.74},
{"e":9.6146,"el":9.5077,"eh":9.6578,"c":0.001066,"cl":0.000803,"ch":0.001416,"r":-1.45,"rl":-2.45,"rh":-0.45},
{"e":9.7064,"el":9.6578,"eh":9.7391,"c":0.002949,"cl":0.002221,"ch":0.003916,"r":1.6,"rl":0.6,"rh":2.6},
{"e":9.772,"el":9.7391,"eh":9.8,"c":0.003736,"cl":0.002813,"ch":0.004961,"r":-0.44,"rl":-1.44,"rh":0.56},
{"e":9.8813,"el":9.8,"eh":9.94,"c":0.002747,"cl":0.002069,"ch":0.003648,"r":-0.44,"rl":-1.44,"rh":0.56},
{"e":9.97,"el":9.94,"eh":10.0,"c":0.007966,"cl":0.005999,"ch":0.01058,"r":2.04,"rl":1.04,"rh":3.04}
],
"totA":[{"e":0.531,"c":0.00783},{"e":0.575,"c":0.00783},{"e":0.665,"c":0.00712},{"e":0.76,"c":0.00746},{"e":0.915,"c":0.00881},{"e":1.063,"c":0.01196},{"e":1.279,"c":0.017},{"e":1.487,"c":0.0192},{"e":1.626,"c":0.0183},{"e":1.788,"c":0.0267},{"e":1.966,"c":0.0201},{"e":2.03,"c":0.0151},{"e":2.15,"c":0.01196},{"e":2.46,"c":0.01196},{"e":2.75,"c":0.01063},{"e":3.306,"c":0.01038},{"e":3.98,"c":0.0082},{"e":4.7,"c":0.0059},{"e":5.38,"c":0.00434},{"e":6.12,"c":0.00343},{"e":6.84,"c":0.0036},{"e":7.52,"c":0.0055},{"e":8.22,"c":0.00746},{"e":9.04,"c":0.01114},{"e":10,"c":0.017}],
"partA":[{"e":0.531,"c":0.00512},{"e":0.703,"c":0.00434},{"e":0.983,"c":0.00395},{"e":1.229,"c":0.0036},{"e":1.454,"c":0.00377},{"e":1.599,"c":0.00343},{"e":1.663,"c":0.00404},{"e":1.72,"c":0.00696},{"e":1.778,"c":0.00945},{"e":1.838,"c":0.00696},{"e":1.912,"c":0.00368},{"e":1.946,"c":0.0032},{"e":2.0,"c":0.00343},{"e":2.079,"c":0.00466},{"e":2.15,"c":0.00512},{"e":2.236,"c":0.00434},{"e":2.326,"c":0.00284},{"e":2.404,"c":0.00253},{"e":2.84,"c":0.00241},{"e":3.7,"c":0.00224},{"e":4.45,"c":0.00214},{"e":5.17,"c":0.00204},{"e":5.68,"c":0.00209},{"e":6.12,"c":0.0023},{"e":6.47,"c":0.00271},{"e":6.84,"c":0.00327},{"e":7.36,"c":0.00489},{"e":7.77,"c":0.0059},{"e":8.41,"c":0.0082},{"e":9.04,"c":0.01114},{"e":10,"c":0.0162}],
"skyA":[{"e":0.534,"c":0.00253},{"e":0.569,"c":0.00291},{"e":0.65,"c":0.00204},{"e":0.727,"c":0.00224},{"e":0.836,"c":0.00241},{"e":0.889,"c":0.00224},{"e":0.989,"c":0.00182},{"e":1.137,"c":0.00177},{"e":1.293,"c":0.00182},{"e":1.367,"c":0.00204},{"e":1.512,"c":0.00265},{"e":1.599,"c":0.00241},{"e":1.818,"c":0.00377},{"e":1.912,"c":0.00327},{"e":2.0,"c":0.00351},{"e":2.138,"c":0.00182},{"e":2.21,"c":0.0019},{"e":2.365,"c":0.00253},{"e":2.46,"c":0.00305},{"e":2.53,"c":0.00253},{"e":2.75,"c":0.00224},{"e":3.08,"c":0.00235},{"e":3.306,"c":0.00204},{"e":3.7,"c":0.00182},{"e":4.372,"c":0.00143},{"e":4.972,"c":0.000895},{"e":5.56,"c":0.000559},{"e":6.22,"c":0.000303},{"e":6.54,"c":0.000228},{"e":6.72,"c":0.000269},{"e":6.95,"c":0.000136},{"e":7.15,"c":0.000093}],
"plA":[{"e":0.531,"c":0.000189},{"e":0.575,"c":0.000193},{"e":0.608,"c":0.000223},{"e":0.654,"c":0.000289},{"e":0.703,"c":0.000431},{"e":0.76,"c":0.000707},{"e":0.818,"c":0.001336},{"e":0.899,"c":0.00214},{"e":0.983,"c":0.00368},{"e":1.063,"c":0.00576},{"e":1.143,"c":0.0082},{"e":1.279,"c":0.01063},{"e":1.487,"c":0.01254},{"e":1.626,"c":0.01254},{"e":1.788,"c":0.0141},{"e":1.838,"c":0.01444},{"e":1.923,"c":0.01196},{"e":2.0,"c":0.01038},{"e":2.079,"c":0.00783},{"e":2.15,"c":0.00604},{"e":2.236,"c":0.00618},{"e":2.404,"c":0.00648},{"e":2.6,"c":0.0059},{"e":2.843,"c":0.0059},{"e":3.306,"c":0.00512},{"e":3.845,"c":0.00434},{"e":4.372,"c":0.0032},{"e":4.972,"c":0.00204},{"e":5.56,"c":0.001133},{"e":6.22,"c":0.000559},{"e":6.95,"c":0.000239},{"e":7.77,"c":0.000105},{"e":7.9,"c":0.000092}],
"totB":[{"e":0.6183,"c":0.001926},{"e":0.7312,"c":0.002747},{"e":0.8042,"c":0.004963},{"e":0.9042,"c":0.006753},{"e":0.9615,"c":0.006288},{"e":1.0167,"c":0.008552},{"e":1.0935,"c":0.0076},{"e":1.1759,"c":0.007077},{"e":1.2575,"c":0.006141},{"e":1.2931,"c":0.007966},{"e":1.3296,"c":0.01191},{"e":1.3675,"c":0.01058},{"e":1.4221,"c":0.005857},{"e":1.5293,"c":0.004963},{"e":1.6632,"c":0.004205},{"e":1.8084,"c":0.004963},{"e":1.8807,"c":0.00441},{"e":2.0,"c":0.002118},{"e":2.1148,"c":0.002328},{"e":2.1993,"c":0.002274},{"e":2.4048,"c":0.001351},{"e":2.75,"c":0.001118},{"e":3.306,"c":0.000993},{"e":3.9767,"c":0.000882},{"e":4.8092,"c":0.000696},{"e":5.378,"c":0.000619},{"e":6.3594,"c":0.00059},{"e":7.032,"c":0.000664},{"e":7.151,"c":0.000841},{"e":7.4763,"c":0.00202},{"e":7.7747,"c":0.000993},{"e":8.2221,"c":0.000993},{"e":8.6957,"c":0.000882},{"e":9.1938,"c":0.000784},{"e":9.4016,"c":0.000803},{"e":9.6686,"c":0.005203},{"e":9.777,"c":0.003737},{"e":9.94,"c":0.002747}],
"partB":[{"e":0.6183,"c":0.000903},{"e":0.7271,"c":0.000784},{"e":0.8744,"c":0.000664},{"e":1.0515,"c":0.000604},{"e":1.2716,"c":0.00059},{"e":1.5293,"c":0.000618},{"e":1.5993,"c":0.000696},{"e":1.6819,"c":0.001145},{"e":1.7389,"c":0.001632},{"e":1.8084,"c":0.001794},{"e":1.8807,"c":0.00152},{"e":1.9447,"c":0.001066},{"e":2.0,"c":0.000903},{"e":2.0795,"c":0.001351},{"e":2.1625,"c":0.001671},{"e":2.2238,"c":0.001632},{"e":2.2741,"c":0.001066},{"e":2.3649,"c":0.000633},{"e":2.5431,"c":0.00055},{"e":3.0073,"c":0.000524},{"e":3.9767,"c":0.000512},{"e":5.2589,"c":0.000512},{"e":6.3594,"c":0.000537},{"e":6.954,"c":0.000664},{"e":7.151,"c":0.000841},{"e":7.4763,"c":0.00202},{"e":7.7747,"c":0.000993},{"e":8.2221,"c":0.000993},{"e":8.6957,"c":0.000882},{"e":9.1938,"c":0.000784},{"e":9.5607,"c":0.002168},{"e":9.7227,"c":0.00533},{"e":9.83,"c":0.003737},{"e":9.94,"c":0.00202}],
"skyB":[{"e":0.6183,"c":0.000903},{"e":0.7271,"c":0.001288},{"e":0.7732,"c":0.00202},{"e":0.8893,"c":0.002274},{"e":0.9615,"c":0.001972},{"e":1.0167,"c":0.002068},{"e":1.112,"c":0.00202},{"e":1.2093,"c":0.001837},{"e":1.2931,"c":0.001711},{"e":1.3448,"c":0.001837},{"e":1.4623,"c":0.001594},{"e":1.5903,"c":0.001259},{"e":1.71,"c":0.001259},{"e":1.8084,"c":0.001145},{"e":1.9123,"c":0.000903},{"e":2.0,"c":0.000803},{"e":2.0335,"c":0.000618},{"e":2.2114,"c":0.000444},{"e":2.3649,"c":0.00055},{"e":2.5289,"c":0.000618},{"e":2.75,"c":0.00055},{"e":3.1272,"c":0.00055},{"e":3.4391,"c":0.000488},{"e":3.8459,"c":0.000444},{"e":4.2999,"c":0.0003505},{"e":4.8092,"c":0.0002578},{"e":5.378,"c":0.0001723},{"e":5.8807,"c":0.0001208},{"e":6.1838,"c":0.0001},{"e":6.395,"c":0.000087}],
"neiB":[{"e":0.553,"c":0.0001048},{"e":0.6837,"c":0.0005117},{"e":0.7732,"c":0.00222},{"e":0.8744,"c":0.003737},{"e":0.9351,"c":0.003398},{"e":0.9944,"c":0.005857},{"e":1.034,"c":0.005203},{"e":1.0753,"c":0.004963},{"e":1.1246,"c":0.004846},{"e":1.1759,"c":0.004624},{"e":1.2025,"c":0.004306},{"e":1.2365,"c":0.003917},{"e":1.2788,"c":0.005588},{"e":1.3149,"c":0.00918},{"e":1.3448,"c":0.008552},{"e":1.3828,"c":0.00348},{"e":1.43,"c":0.002881},{"e":1.5123,"c":0.00262},{"e":1.5727,"c":0.002441},{"e":1.6355,"c":0.001926},{"e":1.6913,"c":0.001594},{"e":1.7883,"c":0.002118},{"e":1.8287,"c":0.00152},{"e":1.9123,"c":0.0004548},{"e":2.0795,"c":0.0002344},{"e":2.1505,"c":0.0001765},{"e":2.2614,"c":0.0001495},{"e":2.4451,"c":0.0001},{"e":2.6447,"c":0.0001}],
"labA":[{"t":"particle background","e":1.849,"c":0.000984},{"t":"power law","e":0.836,"c":0.000198},{"t":"sky background","e":3.845,"c":0.000269}],
"labB":[{"t":"NEI","e":1.112,"c":0.002747},{"t":"particle background","e":1.169,"c":0.0003265},{"t":"sky background","e":3.4,"c":0.0002133}]
},
"vconcat":[
{"vconcat":[
 {"width":536,"height":293,
  "resolve":{"axis":{"x":"independent","y":"independent"}},
  "layer":[
   {"data":{"name":"skyA"},"mark":{"type":"line","color":"#1030ff","strokeWidth":2,"strokeDash":[5,3],"interpolate":"monotone","clip":true},
    "encoding":{"x":{"field":"e","type":"quantitative","scale":{"type":"log","domain":[0.5,10],"nice":false},"axis":null},"y":{"field":"c","type":"quantitative","scale":{"type":"log","domain":[0.0001,0.1],"nice":false},"axis":null}}},
   {"data":{"name":"partA"},"mark":{"type":"line","color":"#ff2020","strokeWidth":2,"strokeDash":[5,3],"interpolate":"monotone","clip":true},
    "encoding":{"x":{"field":"e","type":"quantitative","axis":null},"y":{"field":"c","type":"quantitative","axis":null}}},
   {"data":{"name":"plA"},"mark":{"type":"line","color":"#8a1cf0","strokeWidth":2,"interpolate":"monotone","clip":true},
    "encoding":{"x":{"field":"e","type":"quantitative","axis":null},"y":{"field":"c","type":"quantitative","axis":null}}},
   {"data":{"name":"totA"},"mark":{"type":"line","color":"#808080","strokeWidth":1.3,"clip":true},
    "encoding":{"x":{"field":"e","type":"quantitative","axis":null},"y":{"field":"c","type":"quantitative","axis":null}}},
   {"data":{"name":"specA"},"mark":{"type":"rule","color":"#222222","strokeWidth":1,"clip":true},
    "encoding":{"x":{"field":"e","type":"quantitative","axis":{"orient":"bottom","values":[0.5,0.6,0.7,0.8,0.9,1,2,3,4,5,6,7,8,9,10],"labels":false,"title":null}},
     "y":{"field":"cl","type":"quantitative","axis":{"orient":"left","values":[0.0001,0.0002,0.0003,0.0004,0.0005,0.0006,0.0007,0.0008,0.0009,0.001,0.002,0.003,0.004,0.005,0.006,0.007,0.008,0.009,0.01,0.02,0.03,0.04,0.05,0.06,0.07,0.08],"labelExpr":"datum.value == 0.01 ? '10⁻²' : datum.value == 0.001 ? '10⁻³' : datum.value == 0.0001 ? '10⁻⁴' : ''","title":"counts s⁻¹ keV⁻¹","titleX":-45,"titleAngle":-90,"titleAlign":"center","titleBaseline":"middle"}},
     "y2":{"field":"ch"}}},
   {"data":{"name":"specA"},"mark":{"type":"rule","color":"#000000","strokeWidth":1,"clip":true},
    "encoding":{"x":{"field":"el","type":"quantitative","axis":{"orient":"top","values":[0.5,0.6,0.7,0.8,0.9,1,2,3,4,5,6,7,8,9,10],"labels":false,"title":null}},"x2":{"field":"eh"},
     "y":{"field":"c","type":"quantitative","axis":{"orient":"right","values":[0.0001,0.0002,0.0003,0.0004,0.0005,0.0006,0.0007,0.0008,0.0009,0.001,0.002,0.003,0.004,0.005,0.006,0.007,0.008,0.009,0.01,0.02,0.03,0.04,0.05,0.06,0.07,0.08,0.09],"labels":false,"title":null}}}},
   {"data":{"name":"labA"},"mark":{"type":"text","font":"Liberation Serif","fontWeight":"bold","fontSize":18,"align":"center","baseline":"middle"},
    "encoding":{"x":{"field":"e","type":"quantitative","axis":null},"y":{"field":"c","type":"quantitative","axis":null},"text":{"field":"t"},
     "color":{"field":"t","type":"nominal","scale":{"domain":["particle background","power law","sky background","NEI"],"range":["#f02a2a","#962df0","#1e46e6","#1e821e"]},"legend":null}}},
   {"data":{"values":[{"t":"(a)","e":0.5437,"c":0.05407}]},"mark":{"type":"text","font":"Liberation Sans","fontWeight":"bold","fontSize":18,"align":"left","baseline":"middle","color":"black"},
    "encoding":{"x":{"field":"e","type":"quantitative","axis":null},"y":{"field":"c","type":"quantitative","axis":null},"text":{"field":"t"}}}
  ]},
 {"width":536,"height":136,
  "resolve":{"axis":{"x":"independent","y":"independent"}},
  "layer":[
   {"data":{"name":"specA"},"mark":{"type":"rule","color":"#222222","strokeWidth":1,"clip":true},
    "encoding":{"x":{"field":"e","type":"quantitative","scale":{"type":"log","domain":[0.5,10],"nice":false},"axis":{"orient":"bottom","values":[0.5,0.6,0.7,0.8,0.9,1,2,3,4,5,6,7,8,9,10],"labelPadding":7,"labelFontSize":17,"labelExpr":"datum.value == 1 ? '1' : datum.value == 2 ? '2' : datum.value == 5 ? '5' : datum.value == 10 ? '10' : ''","title":"Energy [keV]","titleFontSize":19,"titleY":31,"titleBaseline":"middle"}},
     "y":{"field":"rl","type":"quantitative","scale":{"domain":[-4,4],"nice":false,"zero":false},"axis":{"orient":"left","values":[-3.5,-3,-2.5,-2,-1.5,-1,-0.5,0,0.5,1,1.5,2,2.5,3,3.5],"labelExpr":"datum.value == 2 ? '2' : datum.value == 0 ? '0' : datum.value == -2 ? '-2' : ''","title":"χ","titleFontSize":22,"titleX":-45,"titleAngle":-90,"titleAlign":"center","titleBaseline":"middle"}},
     "y2":{"field":"rh"}}},
   {"data":{"name":"specA"},"mark":{"type":"rule","color":"#000000","strokeWidth":1,"clip":true},
    "encoding":{"x":{"field":"el","type":"quantitative","axis":{"orient":"top","values":[0.5,0.6,0.7,0.8,0.9,1,2,3,4,5,6,7,8,9,10],"labels":false,"title":null}},"x2":{"field":"eh"},
     "y":{"field":"r","type":"quantitative","axis":{"orient":"right","values":[-3.5,-3,-2.5,-2,-1.5,-1,-0.5,0,0.5,1,1.5,2,2.5,3,3.5],"labels":false,"title":null}}}},
   {"data":{"values":[{"z":0}]},"mark":{"type":"rule","color":"#ff1010","strokeWidth":1.5,"strokeDash":[3,2]},
    "encoding":{"y":{"field":"z","type":"quantitative","axis":null}}}
  ]}
 ],"spacing":0,"bounds":"flush"},
{"vconcat":[
 {"width":536,"height":292,
  "resolve":{"axis":{"x":"independent","y":"independent"}},
  "layer":[
   {"data":{"name":"neiB"},"mark":{"type":"line","color":"#1a8a1a","strokeWidth":1.5,"interpolate":"step-after","clip":true},
    "encoding":{"x":{"field":"e","type":"quantitative","scale":{"type":"log","domain":[0.5,10],"nice":false},"axis":null},"y":{"field":"c","type":"quantitative","scale":{"type":"log","domain":[0.0001,0.1],"nice":false},"axis":null}}},
   {"data":{"name":"skyB"},"mark":{"type":"line","color":"#1030ff","strokeWidth":2,"strokeDash":[5,3],"interpolate":"monotone","clip":true},
    "encoding":{"x":{"field":"e","type":"quantitative","axis":null},"y":{"field":"c","type":"quantitative","axis":null}}},
   {"data":{"name":"totB"},"mark":{"type":"line","color":"#808080","strokeWidth":1.3,"clip":true},
    "encoding":{"x":{"field":"e","type":"quantitative","axis":null},"y":{"field":"c","type":"quantitative","axis":null}}},
   {"data":{"name":"partB"},"mark":{"type":"line","color":"#ff2020","strokeWidth":2,"strokeDash":[5,3],"interpolate":"monotone","clip":true},
    "encoding":{"x":{"field":"e","type":"quantitative","axis":null},"y":{"field":"c","type":"quantitative","axis":null}}},
   {"data":{"name":"specB"},"mark":{"type":"rule","color":"#222222","strokeWidth":1,"clip":true},
    "encoding":{"x":{"field":"e","type":"quantitative","axis":{"orient":"bottom","values":[0.5,0.6,0.7,0.8,0.9,1,2,3,4,5,6,7,8,9,10],"labels":false,"title":null}},
     "y":{"field":"cl","type":"quantitative","axis":{"orient":"left","values":[0.0001,0.0002,0.0003,0.0004,0.0005,0.0006,0.0007,0.0008,0.0009,0.001,0.002,0.003,0.004,0.005,0.006,0.007,0.008,0.009,0.01,0.02,0.03,0.04,0.05,0.06,0.07,0.08],"labelExpr":"datum.value == 0.01 ? '10⁻²' : datum.value == 0.001 ? '10⁻³' : datum.value == 0.0001 ? '10⁻⁴' : ''","title":"counts s⁻¹ keV⁻¹","titleX":-45,"titleAngle":-90,"titleAlign":"center","titleBaseline":"middle"}},
     "y2":{"field":"ch"}}},
   {"data":{"name":"specB"},"mark":{"type":"rule","color":"#000000","strokeWidth":1,"clip":true},
    "encoding":{"x":{"field":"el","type":"quantitative","axis":{"orient":"top","values":[0.5,0.6,0.7,0.8,0.9,1,2,3,4,5,6,7,8,9,10],"labels":false,"title":null}},"x2":{"field":"eh"},
     "y":{"field":"c","type":"quantitative","axis":{"orient":"right","values":[0.0001,0.0002,0.0003,0.0004,0.0005,0.0006,0.0007,0.0008,0.0009,0.001,0.002,0.003,0.004,0.005,0.006,0.007,0.008,0.009,0.01,0.02,0.03,0.04,0.05,0.06,0.07,0.08,0.09],"labels":false,"title":null}}}},
   {"data":{"name":"labB"},"mark":{"type":"text","font":"Liberation Serif","fontWeight":"bold","fontSize":18,"align":"center","baseline":"middle"},
    "encoding":{"x":{"field":"e","type":"quantitative","axis":null},"y":{"field":"c","type":"quantitative","axis":null},"text":{"field":"t"},
     "color":{"field":"t","type":"nominal","scale":{"domain":["particle background","power law","sky background","NEI"],"range":["#f02a2a","#962df0","#1e46e6","#1e821e"]},"legend":null}}},
   {"data":{"values":[{"t":"(b)","e":0.5437,"c":0.05546}]},"mark":{"type":"text","font":"Liberation Sans","fontWeight":"bold","fontSize":18,"align":"left","baseline":"middle","color":"black"},
    "encoding":{"x":{"field":"e","type":"quantitative","axis":null},"y":{"field":"c","type":"quantitative","axis":null},"text":{"field":"t"}}}
  ]},
 {"width":536,"height":136,
  "resolve":{"axis":{"x":"independent","y":"independent"}},
  "layer":[
   {"data":{"name":"specB"},"mark":{"type":"rule","color":"#222222","strokeWidth":1,"clip":true},
    "encoding":{"x":{"field":"e","type":"quantitative","scale":{"type":"log","domain":[0.5,10],"nice":false},"axis":{"orient":"bottom","values":[0.5,0.6,0.7,0.8,0.9,1,2,3,4,5,6,7,8,9,10],"labelPadding":7,"labelFontSize":17,"labelExpr":"datum.value == 1 ? '1' : datum.value == 2 ? '2' : datum.value == 5 ? '5' : datum.value == 10 ? '10' : ''","title":"Energy [keV]","titleFontSize":19,"titleY":31,"titleBaseline":"middle"}},
     "y":{"field":"rl","type":"quantitative","scale":{"domain":[-3.9,3.9],"nice":false,"zero":false},"axis":{"orient":"left","values":[-3.5,-3,-2.5,-2,-1.5,-1,-0.5,0,0.5,1,1.5,2,2.5,3,3.5],"labelExpr":"datum.value == 2 ? '2' : datum.value == 0 ? '0' : datum.value == -2 ? '-2' : ''","title":"χ","titleFontSize":22,"titleX":-45,"titleAngle":-90,"titleAlign":"center","titleBaseline":"middle"}},
     "y2":{"field":"rh"}}},
   {"data":{"name":"specB"},"mark":{"type":"rule","color":"#000000","strokeWidth":1,"clip":true},
    "encoding":{"x":{"field":"el","type":"quantitative","axis":{"orient":"top","values":[0.5,0.6,0.7,0.8,0.9,1,2,3,4,5,6,7,8,9,10],"labels":false,"title":null}},"x2":{"field":"eh"},
     "y":{"field":"r","type":"quantitative","axis":{"orient":"right","values":[-3.5,-3,-2.5,-2,-1.5,-1,-0.5,0,0.5,1,1.5,2,2.5,3,3.5],"labels":false,"title":null}}}},
   {"data":{"values":[{"z":0}]},"mark":{"type":"rule","color":"#ff1010","strokeWidth":1.5,"strokeDash":[3,2]},
    "encoding":{"y":{"field":"z","type":"quantitative","axis":null}}}
  ]}
 ],"spacing":0,"bounds":"flush"}
]
}
